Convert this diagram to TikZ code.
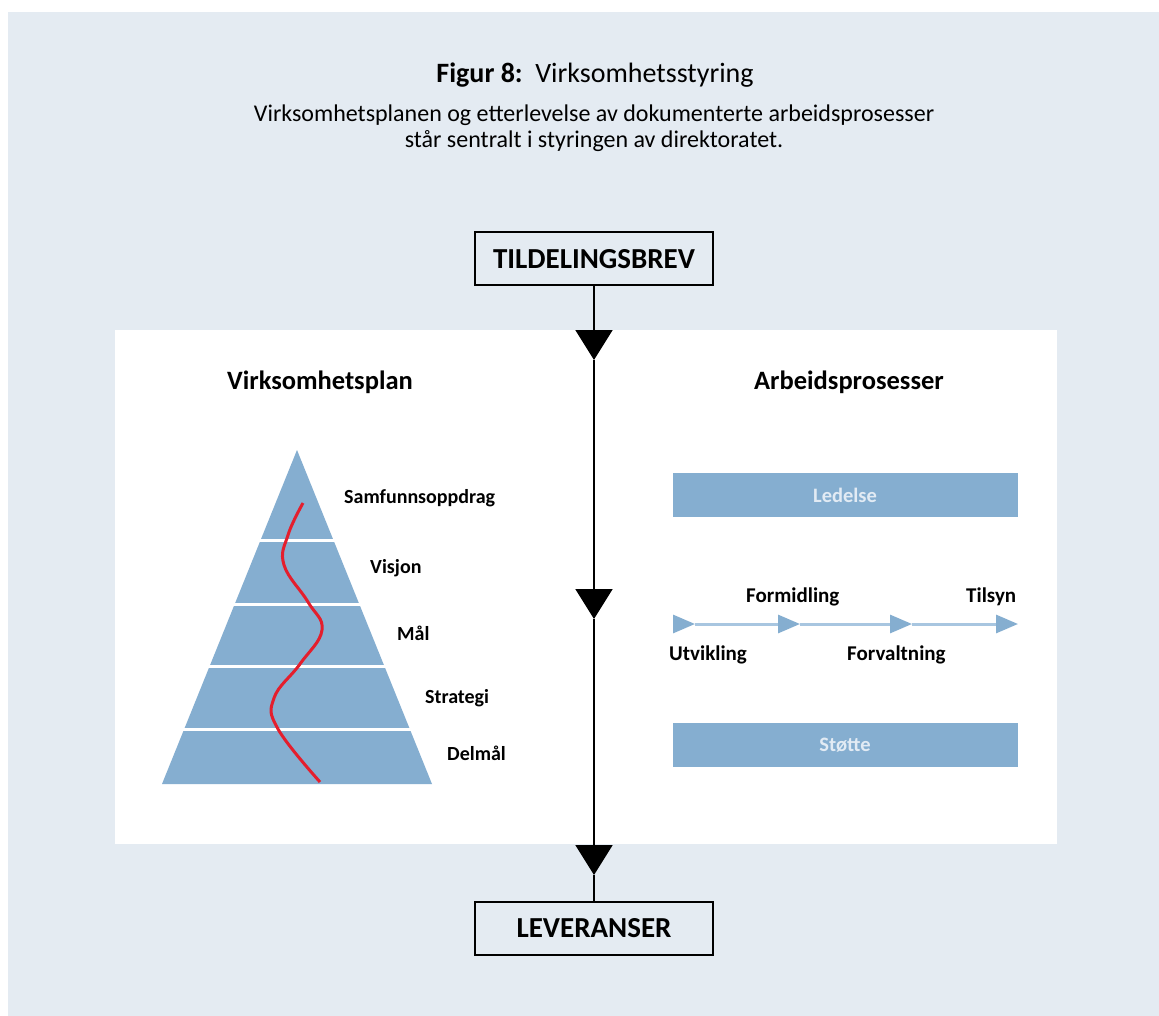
\documentclass[tikz,border=0pt]{standalone}
\usepackage{fontspec}
\setmainfont{Carlito}
\usetikzlibrary{arrows.meta, positioning}

\definecolor{bgblue}{RGB}{228,235,242}
\definecolor{steel}{RGB}{133,174,208}
\definecolor{flowblue}{RGB}{168,198,224}
\definecolor{bartext}{RGB}{226,235,244}
\definecolor{wave}{RGB}{228,30,45}

\tikzset{
	box/.style={draw=black, line width=2pt, fill=bgblue, minimum width=238pt, minimum height=53pt, inner sep=0pt, font=\fontsize{29}{34}\selectfont\bfseries},
	head/.style={font=\fontsize{26.5}{31}\selectfont\bfseries},
	subline/.style={anchor=base, inner sep=0pt, font=\fontsize{24}{26}\selectfont},
	lvl/.style={anchor=west, inner sep=0pt, font=\fontsize{20}{24}\selectfont\bfseries},
	proc/.style={lvl, font=\fontsize{21}{25}\selectfont\bfseries},
	bar/.style={fill=steel, minimum width=345pt, minimum height=44pt, inner sep=0pt, text=bartext, font=\fontsize{20.5}{24}\selectfont\bfseries},
	mainflow/.style={line width=2pt, -{Triangle[length=30pt,width=37pt]}},
	procflow/.style={draw=flowblue, line width=3pt, -{Triangle[length=22pt,width=18pt,color=steel]}},
}

\begin{document}
\begin{tikzpicture}[x=1pt,y=-1pt]
	\useasboundingbox (0,0) rectangle (1159,1016);
	\fill[bgblue] (8,12) rectangle (1159,1016);
	\fill[white] (115,330) rectangle (1057,844);

	% title
	\node[anchor=base, inner sep=0pt, font=\fontsize{28}{32}\selectfont] (title) at (595,83) {\textbf{Figur 8:}\ \ Virksomhetsstyring};
	\node[subline] (sub1) at (594,122) {Virksomhetsplanen og etterlevelse av dokumenterte arbeidsprosesser};
	\node[subline] (sub2) at (594,148) {står sentralt i styringen av direktoratet.};

	% main flow
	\node[box] (brev) at (594,259) {TILDELINGSBREV};
	\node[box] (lev) at (594,928) {LEVERANSER};
	\coordinate (a1) at (594,360);
	\coordinate (a2) at (594,619);
	\coordinate (a3) at (594,875);
	\draw[mainflow] (brev) -- (a1);
	\draw[mainflow] (a1) -- (a2);
	\draw[mainflow] (a2) -- (a3);
	\draw[line width=2pt] (a3) -- (lev);

	\node[head] (vplan) at (320,382) {Virksomhetsplan};
	\node[head] (apros) at (849,382) {Arbeidsprosesser};

	% pyramid
	\fill[steel] (297,450) -- (162,784) -- (432,784) -- cycle;
	\foreach \y in {540,604,666,729}
		\draw[white, line width=3pt] (150,\y) -- (450,\y);
	\draw[wave, line width=3pt] plot[smooth, tension=0.7] coordinates
		{(303,503) (288,535) (284,565) (308,602) (322,630) (300,664) (274,698) (278,729) (320,782)};
	\node[lvl] (l1) at (344,498) {Samfunnsoppdrag};
	\node[lvl] (l2) at (370,568) {Visjon};
	\node[lvl] (l3) at (397,633) {Mål};
	\node[lvl] (l4) at (425,698) {Strategi};
	\node[lvl] (l5) at (447,753) {Delmål};

	% processes
	\node[bar] (ledelse) at (845,495) {Ledelse};
	\node[bar] (stotte) at (845,745) {Støtte};
	\coordinate (p0) at (673,624);
	\coordinate (p1) at (695,624);
	\coordinate (p2) at (800,624);
	\coordinate (p3) at (912,624);
	\coordinate (p4) at (1018,624);
	\draw[procflow] (p0) -- (p1);
	\draw[procflow] (p1) -- (p2);
	\draw[procflow] (p2) -- (p3);
	\draw[procflow] (p3) -- (p4);
	\node[proc] (utv) at (669,655) {Utvikling};
	\node[proc] (form) at (746,597) {Formidling};
	\node[proc] (forv) at (847,655) {Forvaltning};
	\node[proc] (tils) at (966,597) {Tilsyn};
\end{tikzpicture}
\end{document}
